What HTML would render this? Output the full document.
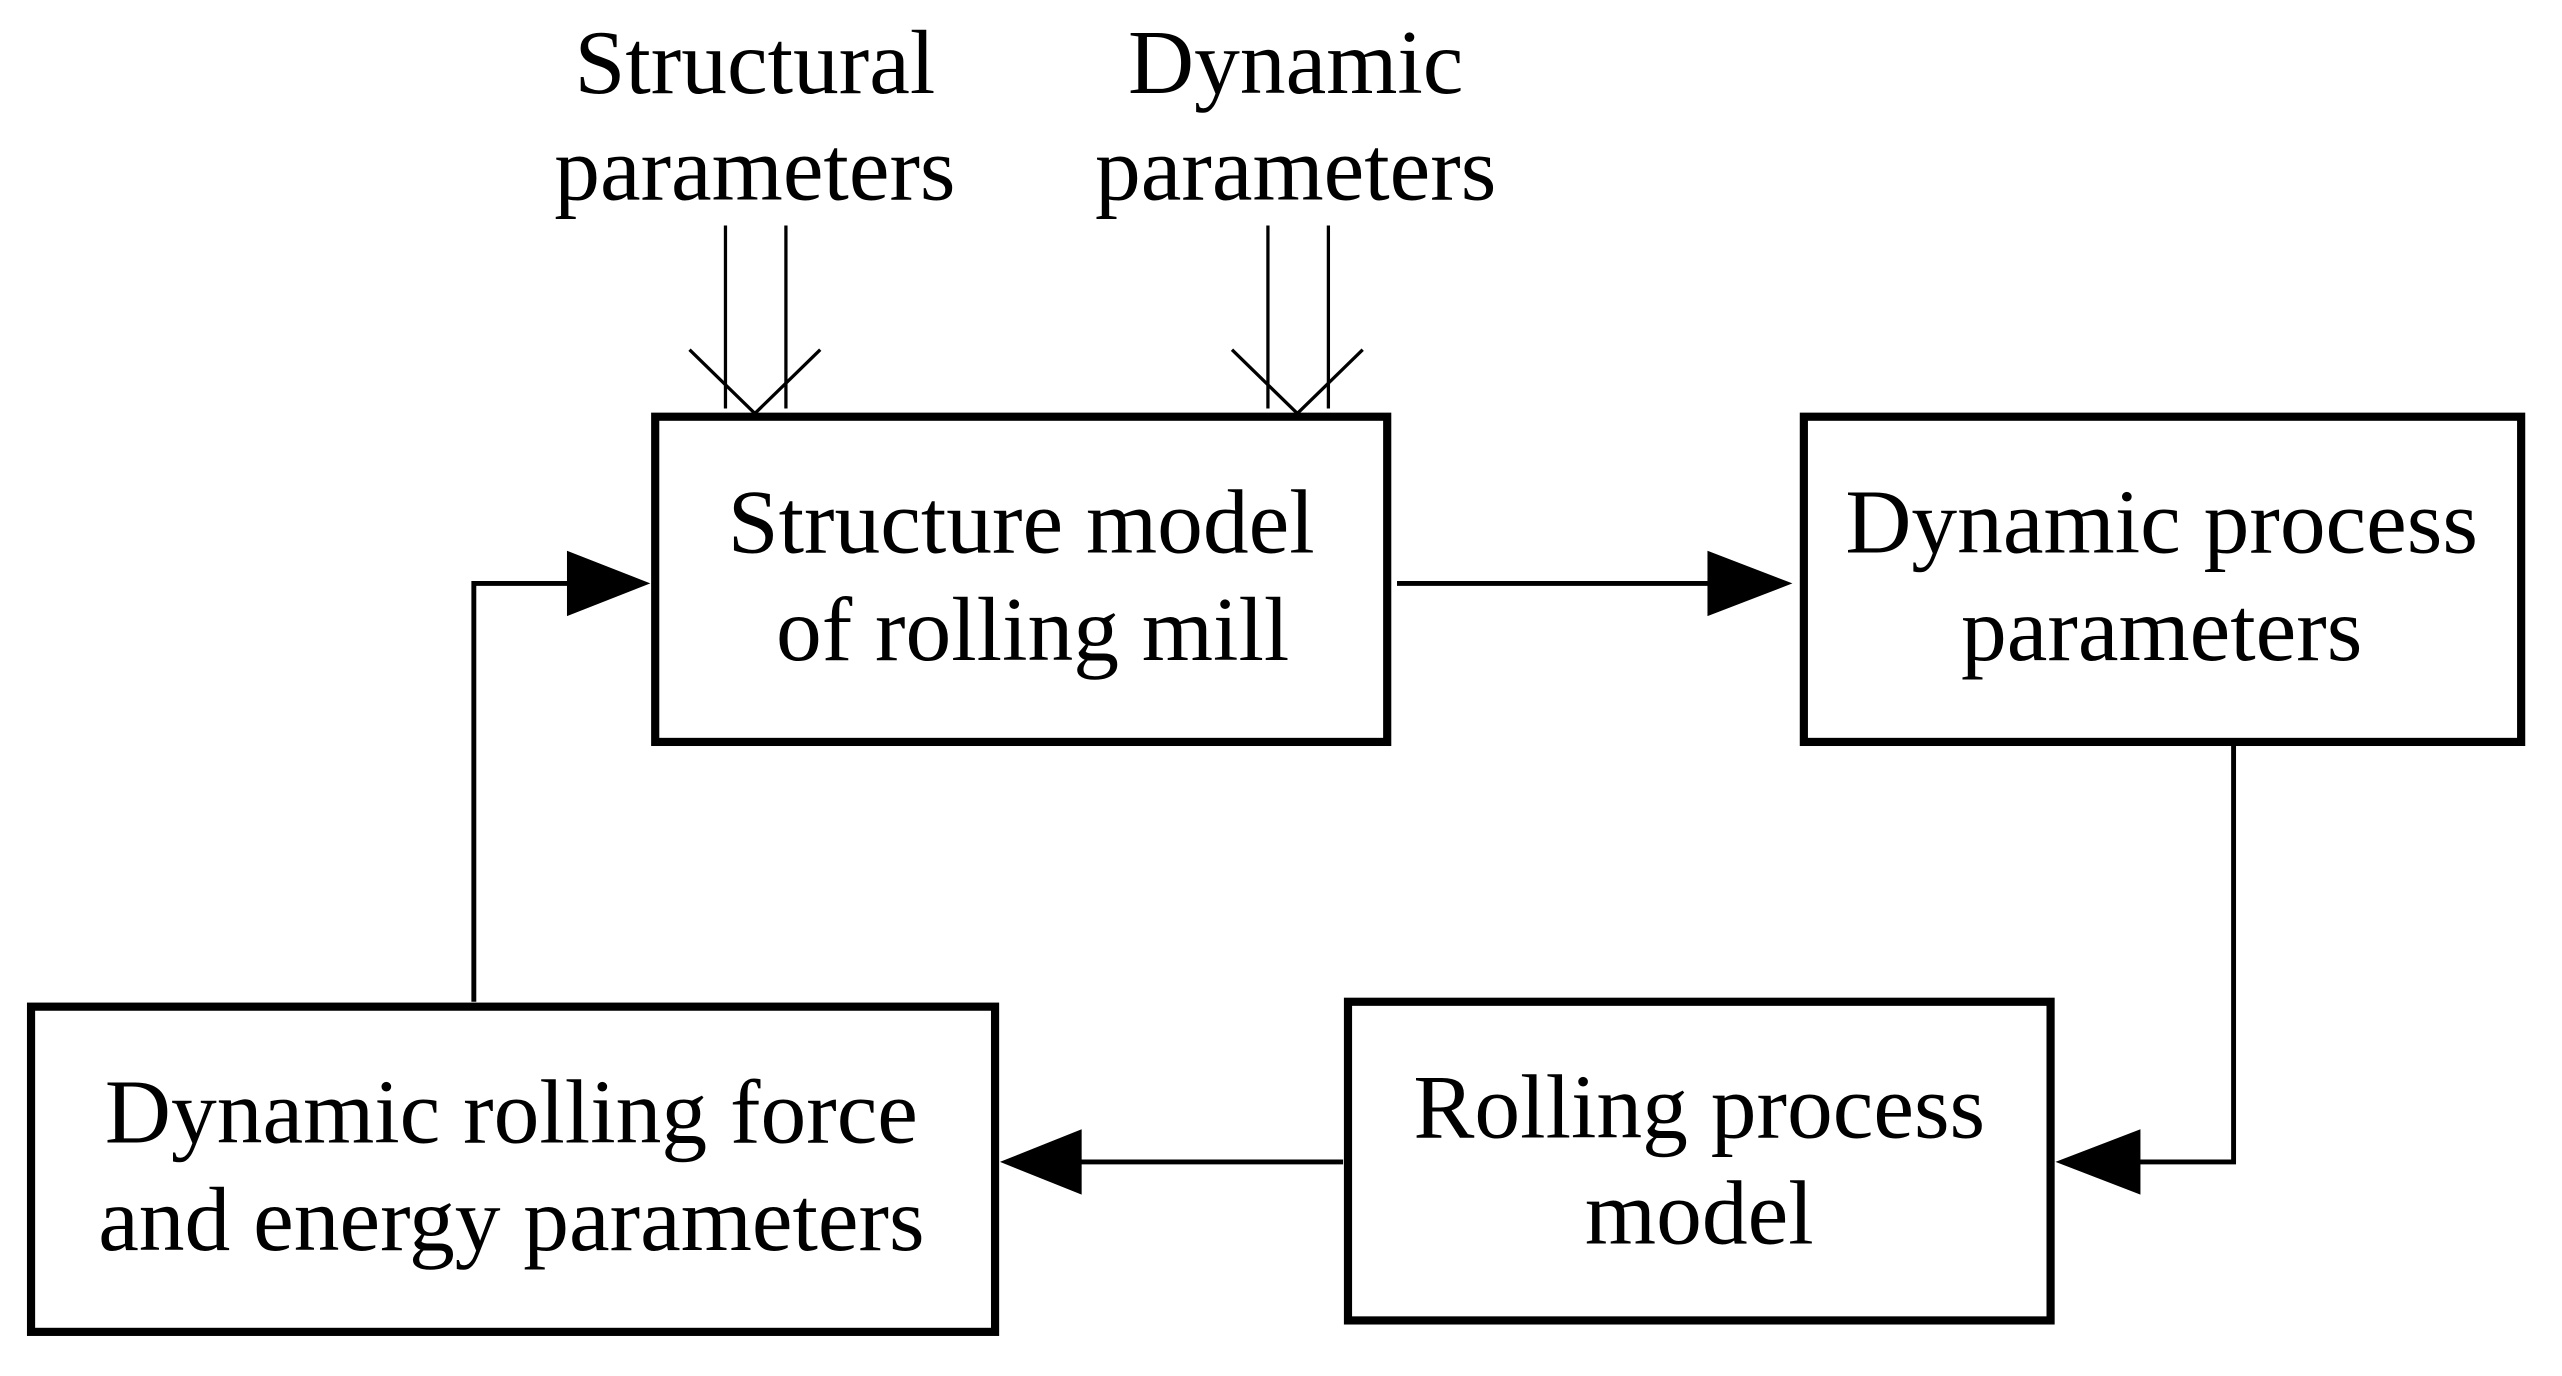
<!DOCTYPE html>
<html><head><style>html,body{margin:0;padding:0;background:#fff}svg{display:block}</style></head>
<body>
<svg width="2562" height="1376" viewBox="0 0 1568 842" preserveAspectRatio="none" xmlns="http://www.w3.org/2000/svg">
<g fill="none" stroke="#000">
<rect x="401" y="255" width="448" height="199" stroke-width="5"/>
<rect x="1104" y="255" width="439" height="199" stroke-width="5"/>
<rect x="825" y="613" width="430" height="195" stroke-width="5"/>
<rect x="19" y="616" width="590" height="199" stroke-width="5"/>
<g stroke-width="3">
<line x1="855" y1="357" x2="1050" y2="357"/>
<polyline points="1367,455 1367,711 1305,711"/>
<line x1="822" y1="711" x2="658" y2="711"/>
<polyline points="290,613 290,357 352,357"/>
</g>
<g stroke-width="2">
<line x1="444" y1="138" x2="444" y2="250"/><line x1="481" y1="138" x2="481" y2="250"/>
<polyline points="422,214 462,253 502,214"/>
<line x1="776" y1="138" x2="776" y2="250"/><line x1="813" y1="138" x2="813" y2="250"/>
<polyline points="754,214 794,253 834,214"/>
</g>
</g>
<g fill="#000">
<polygon points="1045,337 1097,357 1045,377"/>
<polygon points="1310,691 1258,711 1310,731"/>
<polygon points="662,691 612,711 662,731"/>
<polygon points="347,337 398,357 347,377"/>
</g>
<g font-family="Liberation Serif, serif" font-size="56" text-anchor="middle" fill="#000">
<text x="462" y="57">Structural</text><text x="462" y="122">parameters</text>
<text x="793" y="57">Dynamic</text><text x="793" y="122">parameters</text>
<text x="625" y="338">Structure model</text><text x="632" y="404">of rolling mill</text>
<text x="1323" y="338">Dynamic process</text><text x="1323" y="404">parameters</text>
<text x="1040" y="696">Rolling process</text><text x="1040" y="761">model</text>
<text x="313" y="699">Dynamic rolling force</text><text x="313" y="765">and energy parameters</text>
</g>
</svg>
</body></html>
